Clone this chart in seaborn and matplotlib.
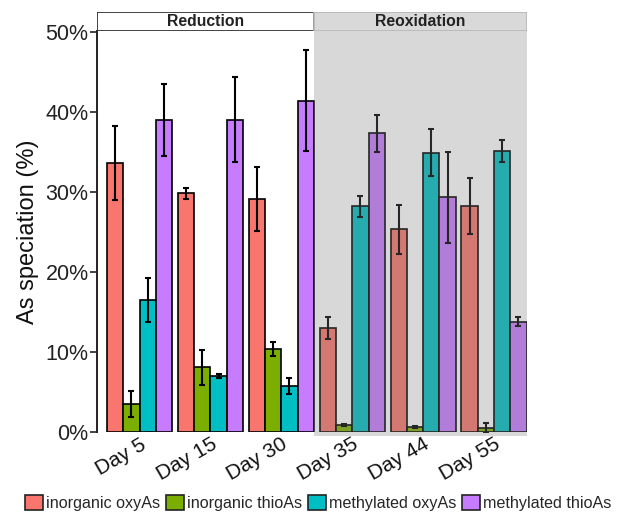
import numpy as np
import pandas as pd
import matplotlib
matplotlib.use("Agg")
import matplotlib.pyplot as plt
import seaborn as sns
from matplotlib.patches import Rectangle

days = ["Day 5", "Day 15", "Day 30", "Day 35", "Day 44", "Day 55"]
species = ["inorganic oxyAs", "inorganic thioAs", "methylated oxyAs", "methylated thioAs"]
inorg_oxy = [33.6, 29.8, 29.1, 13.0, 25.3, 28.2]
inorg_oxy_err = [4.6, 0.7, 4.0, 1.4, 3.1, 3.5]
inorg_thio = [3.5, 8.1, 10.4, 0.9, 0.6, 0.5]
inorg_thio_err = [1.6, 2.2, 0.9, 0.15, 0.1, 0.6]
meth_oxy = [16.5, 7.0, 5.8, 28.2, 34.9, 35.1]
meth_oxy_err = [2.7, 0.3, 1.0, 1.3, 2.9, 1.4]
meth_thio = [39.0, 39.0, 41.4, 37.3, 29.3, 13.8]
meth_thio_err = [4.5, 5.3, 6.3, 2.3, 5.7, 0.6]
ytick_vals = [0, 10, 20, 30, 40, 50]
ytick_labels = ["0%", "10%", "20%", "30%", "40%", "50%"]
phases = ["Reduction", "Reoxidation"]

values = [inorg_oxy, inorg_thio, meth_oxy, meth_thio]
errors = [inorg_oxy_err, inorg_thio_err, meth_oxy_err, meth_thio_err]
df = pd.DataFrame({
    "day": [d for s in species for d in days],
    "species": [s for s in species for d in days],
    "value": [v for vals in values for v in vals],
    "err": [e for errs in errors for e in errs],
})

palette = ["#F8766D", "#7CAE00", "#00BFC4", "#C77CFF"]

sns.set_theme(style="white")
plt.rcParams["font.family"] = ["Liberation Sans", "DejaVu Sans"]

fig = plt.figure(figsize=(6.18, 5.16), dpi=100)
ax = fig.add_axes([97/618, (516-432)/516, 430/618, (432-31)/516])

sns.barplot(data=df, x="day", y="value", hue="species", order=days,
            hue_order=species, palette=palette, width=0.92, errorbar=None,
            edgecolor="black", linewidth=1.2, saturation=1, ax=ax, zorder=2)

bar_containers = list(ax.containers)
for i, cont in enumerate(bar_containers):
    for j, bar in enumerate(cont.patches):
        xc = bar.get_x() + bar.get_width() / 2
        ax.errorbar(xc, values[i][j], yerr=errors[i][j], color="black",
                    lw=1.5, capsize=2, capthick=1.5, zorder=4)

x_left, x_split, x_right = -0.6, 2.46, 5.465
ax.set_xlim(x_left, x_right)
ax.set_ylim(0, 50.1)
ax.axvspan(x_split, x_right, ymin=-0.01, ymax=1, color="#808080", alpha=0.3,
           lw=0, zorder=6, clip_on=False)

ax.set_yticks(ytick_vals)
ax.set_yticklabels(ytick_labels, fontsize=15.5, color="#222222")
ax.tick_params(axis="y", direction="out", length=5, width=1.2, color="#222222", left=True, pad=1)
ax.tick_params(axis="x", length=0, pad=2)
ax.set_xticks(range(len(days)))
ax.set_xticklabels(days, rotation=30, ha="right", rotation_mode="anchor",
                   fontsize=15, color="#111111")
ax.set_xlabel("")
ax.set_ylabel("As speciation (%)", fontsize=17, color="#111111", labelpad=5)
for s in ["top", "right", "bottom"]:
    ax.spines[s].set_visible(False)
ax.spines["left"].set_color("#222222")
ax.spines["left"].set_linewidth(1.4)

# facet strips
sax = fig.add_axes([97/618, (516-31)/516, 430/618, 19/516])
sax.set_xlim(x_left, x_right)
sax.set_ylim(0, 1)
sax.axis("off")
sax.add_patch(Rectangle((x_left, 0), x_split - x_left, 1, facecolor="white",
                        edgecolor="#222222", lw=1.2))
sax.add_patch(Rectangle((x_split, 0), x_right - x_split, 1, facecolor="#D9D9D9",
                        edgecolor="#B5B5B5", lw=1.2))
sax.text((x_left + x_split) / 2, 0.5, phases[0], ha="center", va="center",
         fontsize=11.3, fontweight="bold", color="#222222")
sax.text((x_split + x_right) / 2, 0.5, phases[1], ha="center", va="center",
         fontsize=11.3, fontweight="bold", color="#222222")

if ax.legend_ is not None:
    ax.legend_.remove()
handles = [Rectangle((0, 0), 1, 1, facecolor=c, edgecolor="#222222", lw=1.2) for c in palette]
fig.legend(handles, species, loc="center", bbox_to_anchor=(0.515, 1 - 503/516), ncol=4,
           frameon=False, fontsize=11.6, handlelength=1.1, handleheight=1.1,
           handletextpad=0.2, columnspacing=0.35, borderaxespad=0)

fig.savefig("out.png", dpi=100)
